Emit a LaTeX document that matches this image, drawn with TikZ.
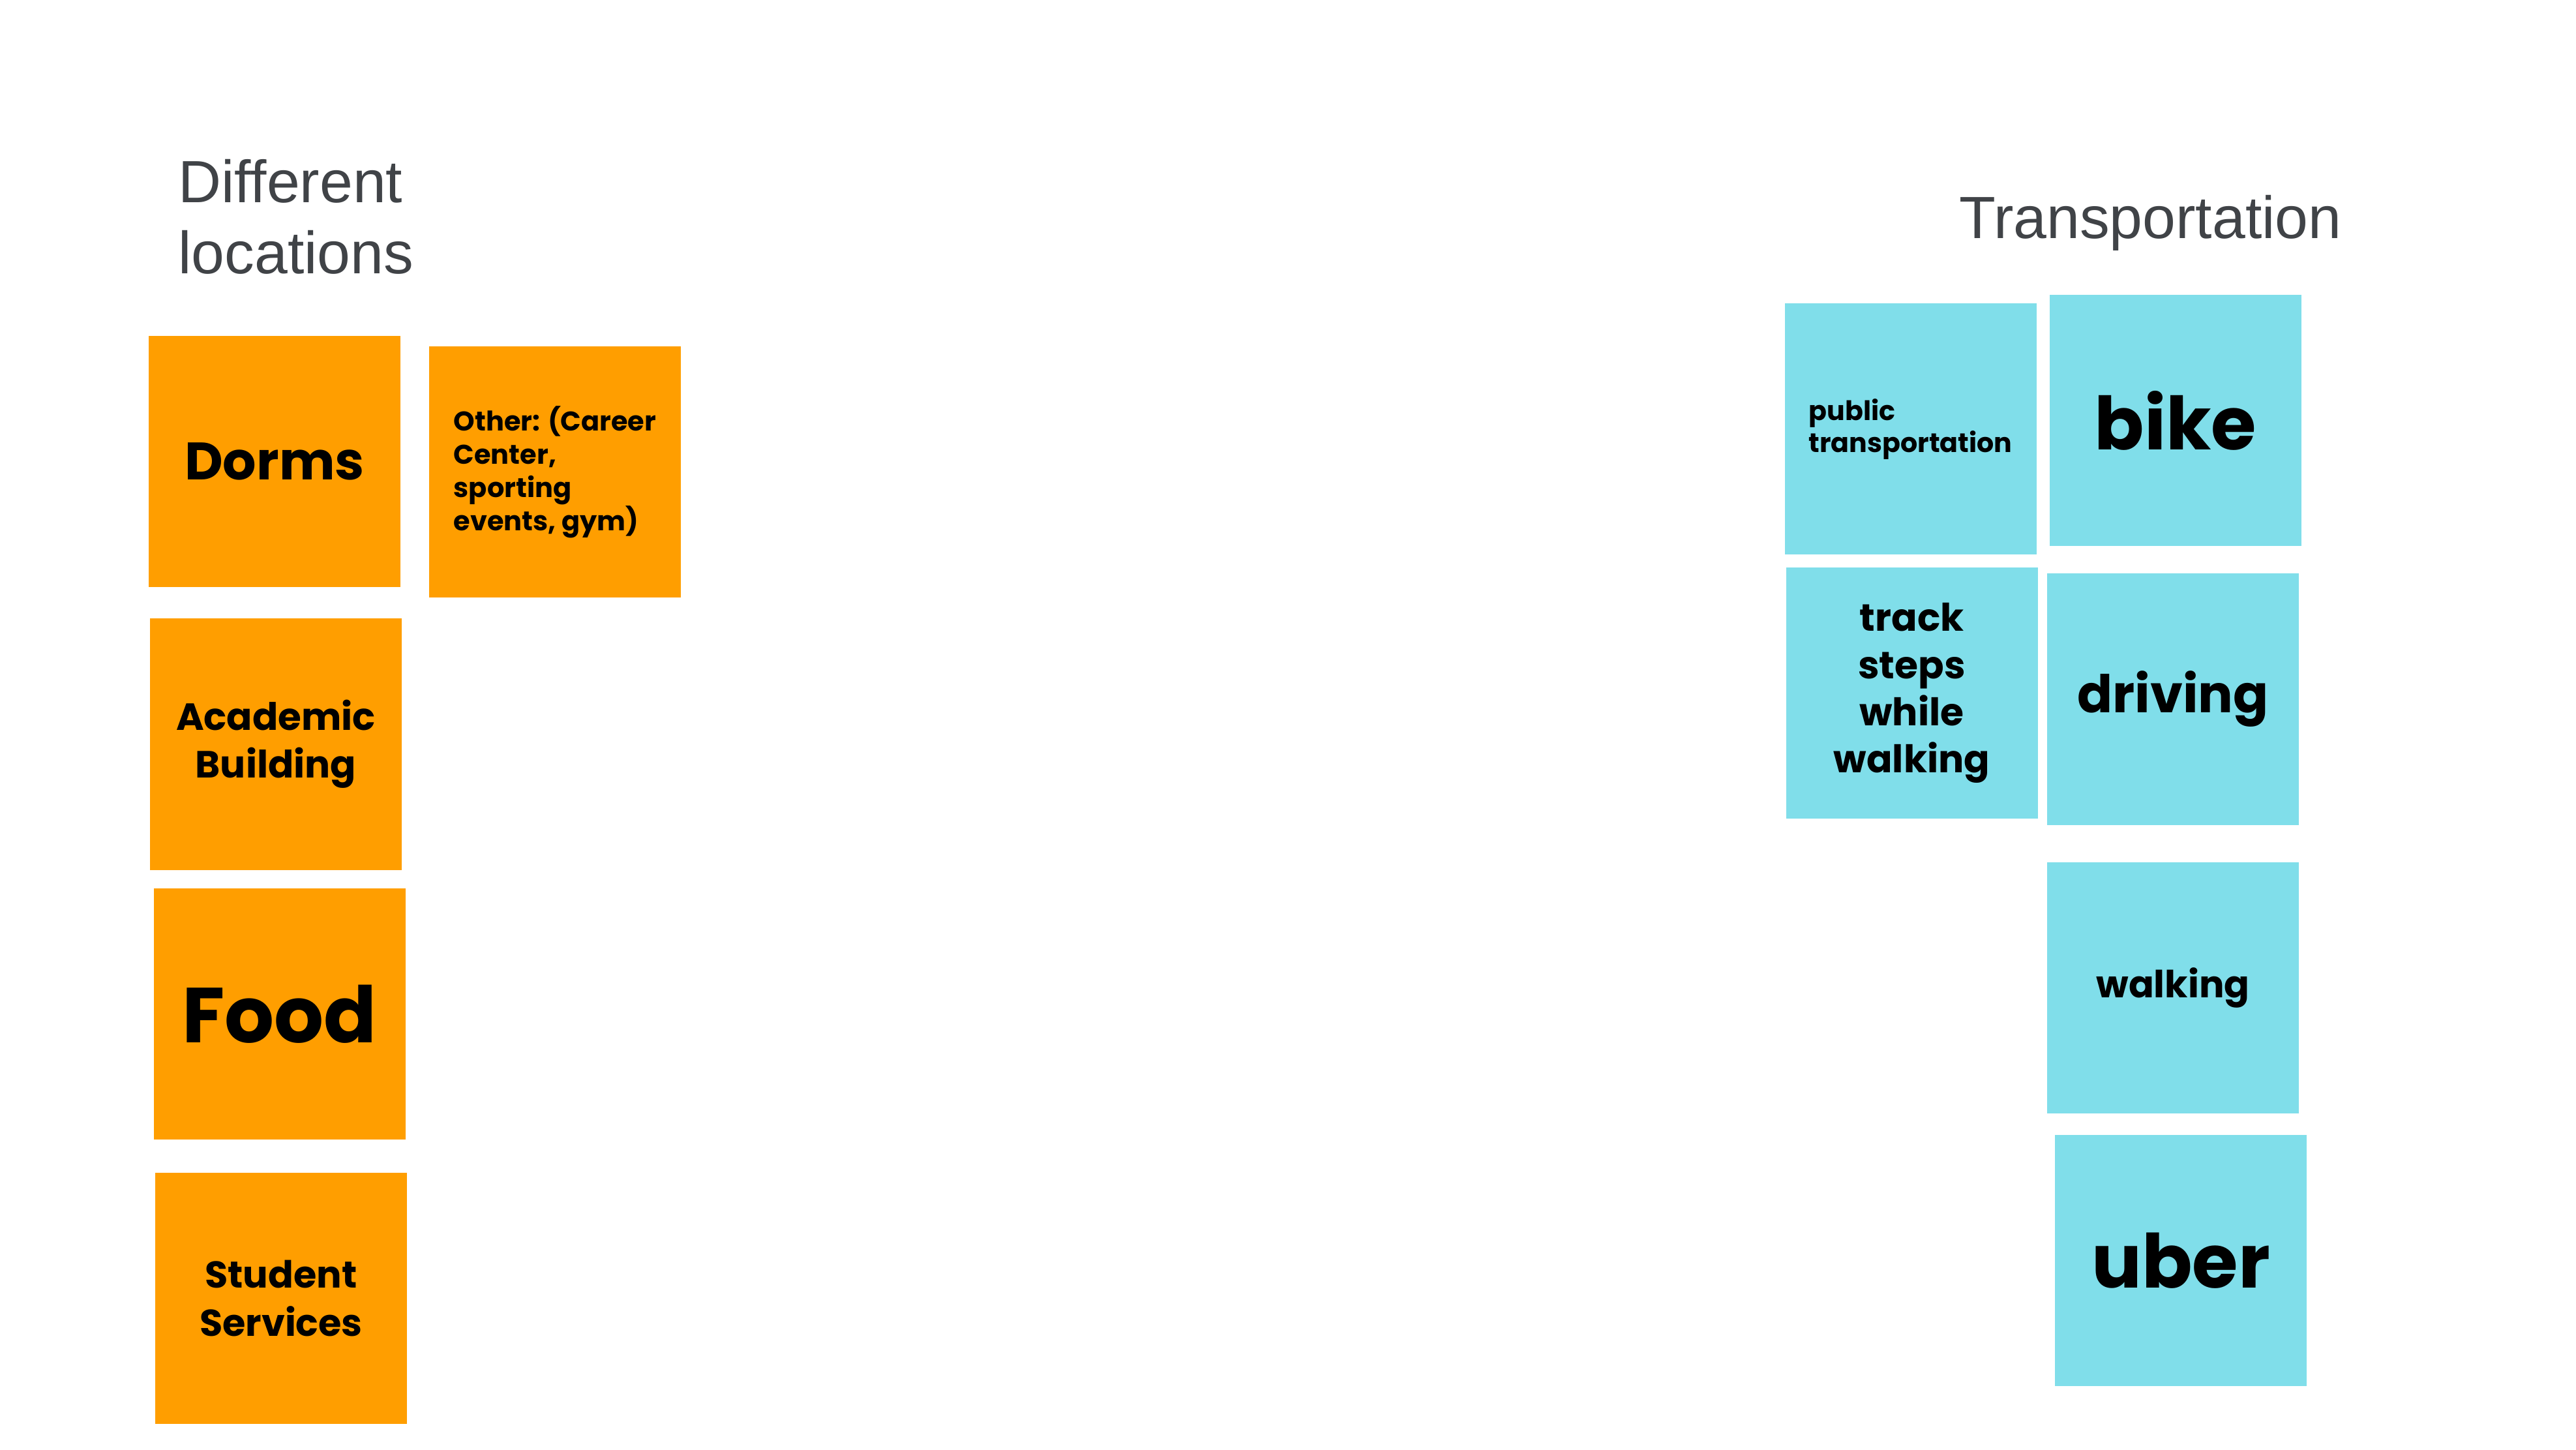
\documentclass[tikz,border=0pt]{standalone}
\usepackage{fontspec}
\setmainfont{Liberation Sans}
\newfontfamily\notefont{Poppins}
\usepackage{xcolor}
\definecolor{noteorange}{RGB}{255,158,0}
\definecolor{notecyan}{RGB}{128,222,234}
\definecolor{titlegray}{RGB}{64,67,71}

\begin{document}
\begin{tikzpicture}[
    note/.style={rectangle, minimum width=3.86cm, minimum height=3.85cm, inner sep=0pt, align=center, text=black},
    place/.style={note, fill=noteorange},
    ride/.style={note, fill=notecyan},
    heading/.style={inner sep=0pt, text=titlegray, align=left, font=\fontsize{26}{31}\selectfont}
]
\useasboundingbox (0,0) rectangle (39.5,22.22);

% Headings
\node[heading, anchor=north west] (locations) at (2.73,19.78) {Different\\locations};
\node[heading, anchor=base west] (transport) at (30.04,18.56) {Transportation};

% Location notes
\node[place, font=\notefont\bfseries\fontsize{23}{28}\selectfont] (dorms) at (4.21,15.145) {Dorms};
\node[place, align=left, font=\notefont\bfseries\fontsize{11.8}{14.5}\selectfont] (other) at (8.51,14.985) {Other: (Career\\Center,\\sporting\\events, gym)};
\node[place, font=\notefont\bfseries\fontsize{16.5}{20.8}\selectfont] (academic) at (4.23,10.81) {Academic\\Building};
\node[place, font=\notefont\bfseries\fontsize{34}{40}\selectfont] (food) at (4.285,6.675) {Food};
\node[place, font=\notefont\bfseries\fontsize{16.3}{20.8}\selectfont] (services) at (4.31,2.315) {Student\\Services};

% Transportation notes
\node[ride, align=left, font=\notefont\bfseries\fontsize{11.7}{14.2}\selectfont] (public) at (29.295,15.64) {public\\transportation};
\node[ride, font=\notefont\bfseries\fontsize{32}{38}\selectfont] (bike) at (33.36,15.775) {bike};
\node[ride, font=\notefont\bfseries\fontsize{16.6}{20.5}\selectfont] (steps) at (29.315,11.595) {track\\steps\\while\\walking};
\node[ride, font=\notefont\bfseries\fontsize{22.7}{28}\selectfont] (driving) at (33.32,11.5) {driving};
\node[ride, font=\notefont\bfseries\fontsize{16.3}{20.8}\selectfont] (walking) at (33.32,7.075) {walking};
\node[ride, font=\notefont\bfseries\fontsize{32.5}{38}\selectfont] (uber) at (33.44,2.895) {uber};

\end{tikzpicture}
\end{document}
